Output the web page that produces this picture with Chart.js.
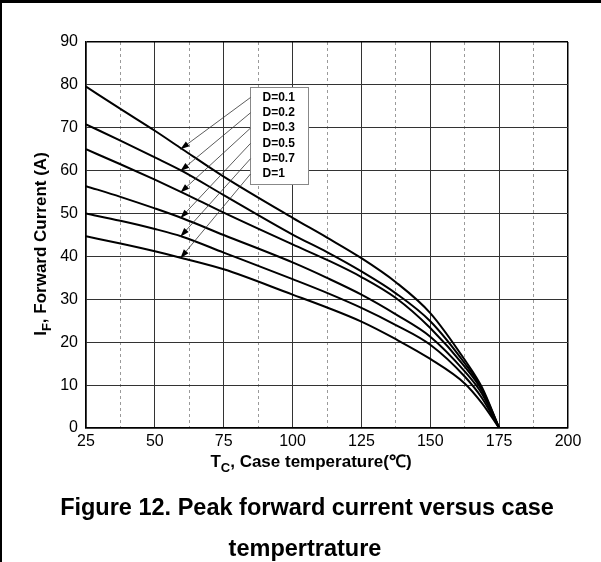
<!DOCTYPE html>
<html>
<head>
<meta charset="utf-8">
<script src="https://cdn.jsdelivr.net/npm/chart.js@4"></script>
<style>
  html, body { margin: 0; padding: 0; background: #fff; }
  #wrap { position: relative; width: 601px; height: 562px; overflow: hidden; }
  #wrap .edge-top { position: absolute; left: 0; top: 0; width: 601px; height: 3px; background: #000; }
  #wrap .edge-left { position: absolute; left: 0; top: 0; width: 2px; height: 562px; background: #000; }
</style>
</head>
<body>
<div id="wrap">
  <canvas id="chart" width="601" height="562"></canvas>
  <div class="edge-top"></div>
  <div class="edge-left"></div>
</div>
<script>
// case temperature (°C) and peak forward current (A) per duty cycle
const temps = [25, 37.5, 50, 60, 75, 100, 112.5, 125, 137.5, 150, 162.5, 168.75, 175];
const d01 = [79.6, 74.4, 69.3, 65.0, 58.6, 49.0, 44.4, 39.6, 34.0, 26.8, 15.9, 9.5, 0];
const d02 = [70.8, 67.0, 63.1, 59.9, 54.3, 45.1, 41.0, 36.5, 31.4, 24.9, 15.1, 9.1, 0];
const d03 = [65.0, 61.5, 57.9, 54.9, 50.2, 42.8, 39.2, 35.2, 30.3, 23.3, 14.3, 8.7, 0];
const d05 = [56.4, 53.9, 51.2, 48.9, 45.0, 38.6, 35.0, 31.1, 26.5, 21.3, 13.2, 8.0, 0];
const d07 = [50.0, 48.3, 46.4, 44.6, 40.9, 34.7, 31.5, 28.0, 24.0, 19.4, 12.0, 7.0, 0];
const d1 = [44.7, 43.0, 41.2, 39.6, 37.0, 31.1, 28.1, 24.8, 20.7, 16.1, 10.4, 5.8, 0];

const seriesLabels = ['D=0.1', 'D=0.2', 'D=0.3', 'D=0.5', 'D=0.7', 'D=1'];
const seriesValues = [d01, d02, d03, d05, d07, d1];

const xTicks = [25, 50, 75, 100, 125, 150, 175, 200];
const yTicks = [0, 10, 20, 30, 40, 50, 60, 70, 80, 90];

const xTitle = [['T', false], ['C', true], [', Case temperature(\u2103)', false]];
const yTitle = [['I', false], ['F', true], [', Forward Current (A)', false]];
const caption = ['Figure 12. Peak forward current versus case', 'tempertrature'];

// where the leader arrows land on each curve, and where the label box sits
const arrowAtTemp = 60;
const legendAt = { x: 84.5, y: 79.6 };

const FONT = '"Liberation Sans", Arial, sans-serif';

const datasets = seriesLabels.map((label, i) => ({
    label: label,
    data: temps.map((t, j) => ({ x: t, y: seriesValues[i][j] })),
    borderColor: '#000',
    borderWidth: 2,
    pointRadius: 0,
    fill: false,
    cubicInterpolationMode: 'monotone'
}));

// draws a run of text pieces with subscripts, centred on (cx, cy)
function drawPieces(ctx, pieces, cx, cy, size) {
    const widths = pieces.map(([t, sub]) => {
        ctx.font = `bold ${sub ? Math.round(size * 0.75) : size}px ${FONT}`;
        return ctx.measureText(t).width;
    });
    let x = cx - widths.reduce((a, b) => a + b, 0) / 2;
    pieces.forEach(([t, sub], i) => {
        ctx.font = `bold ${sub ? Math.round(size * 0.75) : size}px ${FONT}`;
        ctx.fillText(t, x, sub ? cy + size * 0.3 : cy);
        x += widths[i];
    });
}

const annotations = {
    id: 'annotations',
    afterDraw(chart) {
        const ctx = chart.ctx;
        const xs = chart.scales.x, ys = chart.scales.y;
        ctx.save();
        ctx.fillStyle = '#000';
        ctx.textBaseline = 'alphabetic';
        ctx.textAlign = 'left';

        // axis titles
        drawPieces(ctx, xTitle, 311, 467, 17);
        ctx.save();
        ctx.translate(46, 244);
        ctx.rotate(-Math.PI / 2);
        drawPieces(ctx, yTitle, 0, 0, 17);
        ctx.restore();

        // caption under the chart
        ctx.font = `bold 23.5px ${FONT}`;
        ctx.textAlign = 'center';
        ctx.fillText(caption[0], 307, 515);
        ctx.fillText(caption[1], 305, 556);

        // label box
        const bx = Math.round(xs.getPixelForValue(legendAt.x)) + 0.5;
        const by = Math.round(ys.getPixelForValue(legendAt.y)) + 0.5;
        const bw = 58, bh = 97, rowH = 15.3;
        ctx.fillStyle = '#fff';
        ctx.fillRect(bx, by, bw, bh);
        ctx.strokeStyle = '#888';
        ctx.lineWidth = 1;
        ctx.strokeRect(bx, by, bw, bh);

        ctx.fillStyle = '#000';
        ctx.textAlign = 'left';
        ctx.textBaseline = 'middle';
        ctx.font = `bold 12px ${FONT}`;
        const k = temps.indexOf(arrowAtTemp);
        seriesLabels.forEach((label, i) => {
            const ry = by + 10 + i * rowH;
            ctx.fillText(label, bx + 12, ry);

            // leader line with arrow head onto the curve
            const tx = xs.getPixelForValue(arrowAtTemp) - 2;
            const ty = ys.getPixelForValue(seriesValues[i][k]);
            const sx = bx, sy = ry;
            ctx.strokeStyle = '#333';
            ctx.lineWidth = 0.8;
            ctx.beginPath();
            ctx.moveTo(sx, sy);
            ctx.lineTo(tx, ty);
            ctx.stroke();
            const ang = Math.atan2(ty - sy, tx - sx);
            const len = 9, half = 3;
            ctx.beginPath();
            ctx.moveTo(tx, ty);
            ctx.lineTo(tx - len * Math.cos(ang) + half * Math.sin(ang), ty - len * Math.sin(ang) - half * Math.cos(ang));
            ctx.lineTo(tx - len * Math.cos(ang) - half * Math.sin(ang), ty - len * Math.sin(ang) + half * Math.cos(ang));
            ctx.closePath();
            ctx.fill();
        });
        ctx.restore();
    }
};

const isEdge = (v, lo, hi) => v === lo || v === hi;

new Chart(document.getElementById('chart'), {
    type: 'line',
    data: { datasets: datasets },
    plugins: [annotations],
    options: {
        responsive: false,
        animation: false,
        layout: { padding: { top: 42, right: 33, left: 0, bottom: 0 } },
        plugins: {
            legend: { display: false },
            tooltip: { enabled: false }
        },
        scales: {
            x: {
                type: 'linear',
                position: 'bottom',
                min: xTicks[0],
                max: xTicks[xTicks.length - 1],
                afterBuildTicks: s => { s.ticks = xTicks.map(v => ({ value: v })); },
                afterFit: s => { s.height = 134; },
                ticks: { color: '#000', font: { family: FONT, size: 16 }, padding: 4, maxRotation: 0 },
                grid: {
                    drawTicks: false,
                    color: c => isEdge(c.tick.value, 25, 200) ? '#000' : '#333',
                    lineWidth: c => isEdge(c.tick.value, 25, 200) ? 1.5 : 1
                },
                border: { color: '#000', width: 1.5 }
            },
            xMinor: {
                type: 'linear',
                position: 'bottom',
                min: xTicks[0],
                max: xTicks[xTicks.length - 1],
                afterFit: s => { s.height = 0; },
                ticks: { display: false, stepSize: 12.5 },
                grid: {
                    drawTicks: false,
                    color: c => (c.tick && c.tick.value % 25 !== 0) ? '#9a9a9a' : 'rgba(0,0,0,0)',
                    lineWidth: 1
                },
                border: { display: false, dash: [3, 3] }
            },
            y: {
                min: yTicks[0],
                max: yTicks[yTicks.length - 1],
                afterBuildTicks: s => { s.ticks = yTicks.map(v => ({ value: v })); },
                afterFit: s => { s.width = 86; },
                ticks: { color: '#000', font: { family: FONT, size: 16 }, padding: 8 },
                grid: {
                    drawTicks: false,
                    color: c => isEdge(c.tick.value, 0, 90) ? '#000' : '#333',
                    lineWidth: c => isEdge(c.tick.value, 0, 90) ? 1.5 : 1
                },
                border: { color: '#000', width: 1.5 }
            }
        }
    }
});
</script>
</body>
</html>
